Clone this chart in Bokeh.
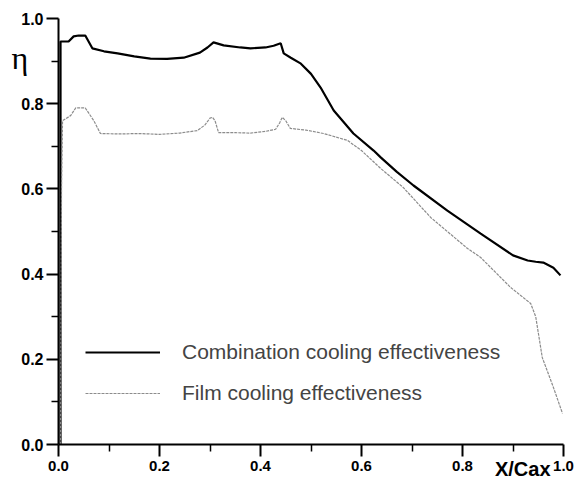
from bokeh.plotting import figure
from bokeh.models import (Range1d, FixedTicker, PrintfTickFormatter, Legend, LegendItem,
                          Title)
from bokeh.embed import file_html
from bokeh.resources import INLINE

# ---- data ----
x_comb = [0.004, 0.004, 0.02, 0.03, 0.04, 0.053, 0.067, 0.09, 0.117, 0.15, 0.182, 0.215,
          0.248, 0.28, 0.295, 0.307, 0.327, 0.36, 0.38, 0.41, 0.426, 0.44, 0.446, 0.46,
          0.48, 0.50, 0.519, 0.545, 0.584, 0.624, 0.638, 0.67, 0.703, 0.77, 0.836, 0.90,
          0.929, 0.945, 0.96, 0.98, 0.994]
eta_comb = [0.0, 0.946, 0.946, 0.958, 0.96, 0.96, 0.93, 0.923, 0.918, 0.911, 0.906, 0.905,
            0.908, 0.92, 0.932, 0.944, 0.937, 0.932, 0.93, 0.932, 0.936, 0.942, 0.918, 0.908,
            0.894, 0.87, 0.838, 0.784, 0.73, 0.69, 0.674, 0.64, 0.608, 0.549, 0.495, 0.444,
            0.432, 0.429, 0.427, 0.415, 0.397]

x_film = [0.004, 0.006, 0.008, 0.024, 0.034, 0.053, 0.07, 0.083, 0.12, 0.16, 0.2, 0.24,
          0.275, 0.29, 0.3, 0.305, 0.31, 0.317, 0.35, 0.38, 0.41, 0.43, 0.438, 0.443, 0.45,
          0.459, 0.49, 0.525, 0.572, 0.60, 0.638, 0.683, 0.737, 0.77, 0.81, 0.836, 0.895,
          0.935, 0.945, 0.958, 0.98, 0.998]
eta_film = [0.0, 0.6, 0.76, 0.772, 0.79, 0.79, 0.76, 0.73, 0.729, 0.73, 0.728, 0.731,
            0.737, 0.75, 0.766, 0.768, 0.76, 0.732, 0.732, 0.731, 0.735, 0.74, 0.755, 0.768,
            0.76, 0.742, 0.738, 0.73, 0.714, 0.69, 0.648, 0.603, 0.533, 0.50, 0.46, 0.439,
            0.369, 0.331, 0.30, 0.204, 0.134, 0.073]

major_ticks = [0.0, 0.2, 0.4, 0.6, 0.8, 1.0]
minor_ticks = [0.1, 0.3, 0.5, 0.7, 0.9]
label_comb = "Combination cooling effectiveness"
label_film = "Film cooling effectiveness"
x_title = "X/Cax"
y_title = "η"

FONT = "Liberation Sans"

p = figure(width=576, height=492, output_backend="svg", toolbar_location=None,
           x_range=Range1d(0, 1.0), y_range=Range1d(0, 1.0),
           min_border_left=58, min_border_right=13, min_border_top=18, min_border_bottom=48)
p.outline_line_color = None
p.xgrid.visible = False
p.ygrid.visible = False

for ax in (p.xaxis[0], p.yaxis[0]):
    ax.ticker = FixedTicker(ticks=major_ticks, minor_ticks=minor_ticks)
    ax.formatter = PrintfTickFormatter(format="%.1f")
    ax.axis_line_width = 2
    ax.axis_line_color = "black"
    ax.major_tick_line_width = 2
    ax.minor_tick_line_width = 1.5
    ax.major_tick_in = 0
    ax.major_tick_out = 12
    ax.minor_tick_in = 0
    ax.minor_tick_out = 7
    ax.major_label_text_font = FONT
    ax.major_label_text_font_style = "bold"
    ax.major_label_text_color = "black"

p.xaxis[0].major_label_text_font_size = "15px"
p.xaxis[0].major_label_standoff = 4
p.yaxis[0].major_label_text_font_size = "16px"
p.yaxis[0].major_label_standoff = 3

# axis titles placed as Titles in the side panels
p.add_layout(Title(text=x_title, align="right", offset=13, vertical_align="top",
                   standoff=-31, text_font=FONT, text_font_size="20px",
                   text_font_style="bold", text_color="black"), "below")
p.add_layout(Title(text=y_title, align="left", offset=-47, vertical_align="bottom",
                   standoff=-114, text_font="Liberation Serif", text_font_size="32px",
                   text_font_style="normal", text_color="black"), "above")

r_comb = p.line(x_comb, eta_comb, line_color="black", line_width=2.2)
r_film = p.line(x_film, eta_film, line_color="#8c8c8c", line_width=1.2, line_dash="3 1")

legend = Legend(items=[LegendItem(label=label_comb, renderers=[r_comb]),
                       LegendItem(label=label_film, renderers=[r_film])],
                location=(27, 39), glyph_width=75, glyph_height=20, label_height=20,
                label_standoff=22, spacing=17, padding=0, margin=0,
                label_text_font=FONT, label_text_font_size="21px",
                border_line_alpha=0, background_fill_alpha=0)
p.add_layout(legend, "center")

open("out.html", "w").write(file_html(p, INLINE))
